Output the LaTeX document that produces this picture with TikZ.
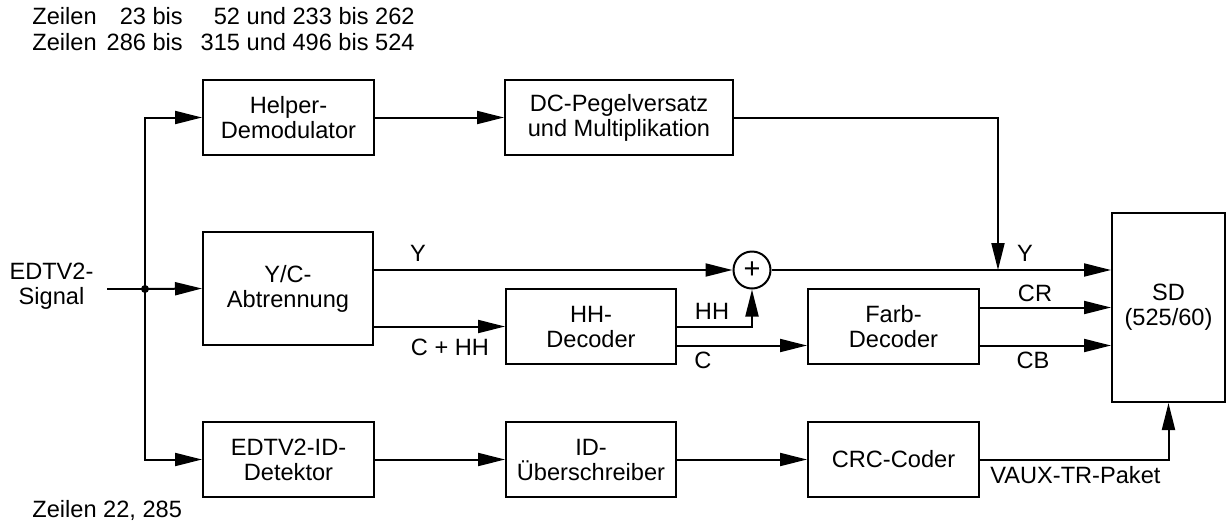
\documentclass[tikz,border=0pt]{standalone}
\usepackage{fontspec}
\setmainfont{Liberation Sans}
\usetikzlibrary{arrows.meta,calc}

\tikzset{
  blk/.style={draw, line width=1pt, align=center, inner sep=0pt,
              minimum width=85.5pt, minimum height=37.5pt},
  lnk/.style={line width=1pt},
  arr/.style={lnk, -{Triangle[length=13.5pt,width=6.5pt]}},
  lbl/.style={inner sep=0pt, align=center},
  sumnode/.style={draw, circle, line width=1pt, minimum size=18.5pt, inner sep=0pt,
                  font=\fontsize{14.5}{14.5}\selectfont},
}

\begin{document}
\begin{tikzpicture}[x=0.5pt, y=-0.5pt, font=\fontsize{11.8}{12.5}\selectfont]
\useasboundingbox (0,0) rectangle (1228,526);

% line ranges above and below the chain
\node[lbl, anchor=north west] (rows) at (32,6)
  {\fontsize{11.8}{13}\selectfont
   \begin{tabular}{@{}l@{\hskip 5pt}r@{ }l@{\hskip 9pt}r@{ }l@{}}
   Zeilen & 23 & bis & 52 & und 233 bis 262\\
   Zeilen & 286 & bis & 315 & und 496 bis 524
   \end{tabular}};
\node[lbl, anchor=west] (rowsid) at (32,510) {Zeilen 22, 285};

% input signal
\node[lbl] (sig) at (51.5,286) {EDTV2-\\Signal};
\coordinate (in) at (107,289);
\coordinate (j) at (145,289);

% upper chain
\node[blk] (helper) at (288.5,117.5) {Helper-\\Demodulator};
\node[blk, minimum width=114pt] (dc) at (619,117.5) {DC-Pegelversatz\\und Multiplikation};

% middle chain
\node[blk, minimum width=85pt, minimum height=56.5pt] (yc) at (288,288.5) {Y/C-\\Abtrennung};
\node[blk, minimum width=85pt] (hh) at (591,326.5) {HH-\\Decoder};
\node[blk] (farb) at (893.5,326.5) {Farb-\\Decoder};
\node[sumnode] (sum) at (752,270) {+};
\node[blk, minimum width=56.5pt, minimum height=94.5pt] (sd) at (1168.5,307.5) {SD\\(525/60)};

% lower chain
\node[blk] (edid) at (288.5,459.5) {EDTV2-ID-\\Detektor};
\node[blk, minimum width=85pt] (idue) at (591,459.5) {ID-\\Überschreiber};
\node[blk] (crc) at (893.5,459.5) {CRC-Coder};

\coordinate (ymerge) at (998,270);

% input and distribution bus
\draw[lnk] (in) -- (j);
\draw[arr] (j) -- (yc.west);
\draw[arr] (j) |- (helper.west);
\draw[arr] (j) |- (edid.west);
\fill (j) circle (2pt);

% upper path
\draw[arr] (helper.east) -- (dc.west);
\draw[arr] (dc.east) -| (ymerge);

% luminance and chroma paths
\draw[arr] (sum.west -| yc.east) -- (sum.west);
\draw[arr] (hh.west -| yc.east) -- (hh.west);
\draw[arr] (hh.east) -| (sum.south);
\draw[arr] ([yshift=-9.5pt]hh.east) -- ([yshift=-9.5pt]farb.west);
\draw[arr] (sum.east) -- (sum.east -| sd.west);
\draw[arr] ([yshift=9.5pt]farb.east) -- ([yshift=9.5pt]farb.east -| sd.west);
\draw[arr] ([yshift=-9.5pt]farb.east) -- ([yshift=-9.5pt]farb.east -| sd.west);

% identification path
\draw[arr] (edid.east) -- (idue.west);
\draw[arr] (idue.east) -- (crc.west);
\draw[arr] (crc.east) -| (sd.south);

% signal labels
\node[lbl] (lY1) at (418,253) {Y};
\node[lbl] (lCHH) at (450,347) {C + HH};
\node[lbl] (lHH) at (712,311) {HH};
\node[lbl] (lC) at (703,360) {C};
\node[lbl] (lY2) at (1025,253) {Y};
\node[lbl] (lCR) at (1035,293) {CR};
\node[lbl] (lCB) at (1033,360) {CB};
\node[lbl, anchor=west] (lvaux) at (990,475) {VAUX-TR-Paket};
\end{tikzpicture}
\end{document}
